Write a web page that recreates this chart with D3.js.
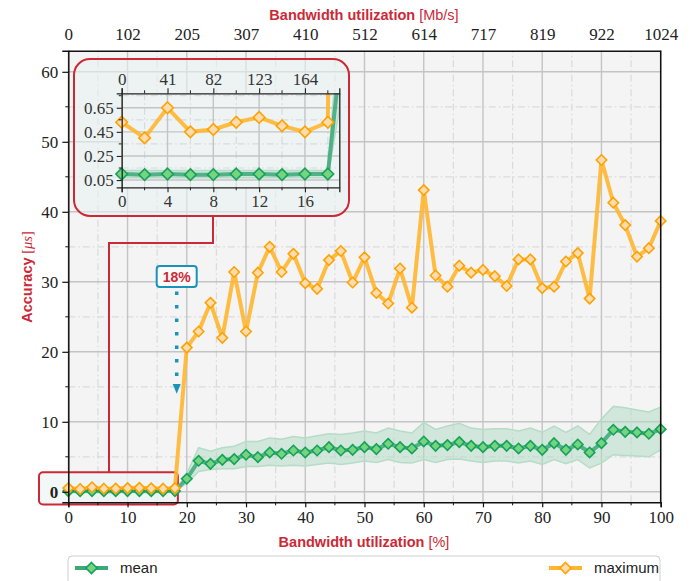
<!DOCTYPE html>
<html>
<head>
<meta charset="utf-8">
<script src="https://cdn.jsdelivr.net/npm/d3@7"></script>
<style>
  body { margin: 0; background: #fff; }
  .tick text { font-family: "Liberation Serif", serif; }
</style>
</head>
<body>
<script>
// bandwidth utilization in percent, one sample every 2 %
var pct = [0, 2, 4, 6, 8, 10, 12, 14, 16, 18, 20, 22, 24, 26, 28, 30, 32, 34, 36, 38, 40,
           42, 44, 46, 48, 50, 52, 54, 56, 58, 60, 62, 64, 66, 68, 70, 72, 74, 76, 78, 80,
           82, 84, 86, 88, 90, 92, 94, 96, 98, 100];

var maxVals = [0.53, 0.40, 0.65, 0.45, 0.47, 0.53, 0.57, 0.50, 0.45, 0.53,
               20.6, 22.9, 27.0, 22.0, 31.4, 22.9, 31.3, 35.0, 31.4, 34.0, 29.8,
               29.0, 33.1, 34.4, 29.9, 33.5, 28.4, 26.9, 31.9, 26.3, 43.1,
               30.9, 29.3, 32.3, 31.3, 31.7, 30.8, 29.4, 33.2, 33.2, 29.1,
               29.3, 32.9, 34.1, 27.6, 47.4, 41.3, 38.1, 33.6, 34.8, 38.7];

var meanVals = [0.10, 0.095, 0.10, 0.095, 0.095, 0.10, 0.10, 0.095, 0.10, 0.10,
                1.86, 4.43, 4.0, 4.57, 4.67, 5.29, 4.95, 5.62, 5.43, 5.9, 5.62,
                5.9, 6.38, 5.9, 6.0, 6.38, 6.1, 6.86, 6.38, 6.19, 7.19,
                6.57, 6.67, 7.1, 6.57, 6.38, 6.57, 6.57, 6.19, 6.57, 6.0,
                6.95, 6.0, 6.76, 5.62, 6.95, 8.86, 8.57, 8.48, 8.29, 8.95];

var bandHigh = [0.13, 0.13, 0.13, 0.13, 0.13, 0.13, 0.13, 0.13, 0.13, 0.13,
                2.6, 6.3, 5.8, 6.3, 6.5, 7.2, 7.2, 7.7, 7.5, 7.9, 7.7,
                8.0, 8.3, 8.2, 8.4, 8.7, 8.4, 9.1, 8.7, 8.4, 9.9,
                8.9, 9.4, 9.8, 9.1, 8.9, 9.0, 9.0, 8.7, 9.1, 8.5,
                9.4, 8.5, 9.4, 8.2, 10.4, 12.2, 12.0, 11.7, 11.4, 12.1];

var bandLow = [0.07, 0.07, 0.07, 0.07, 0.07, 0.07, 0.07, 0.07, 0.07, 0.07,
               1.2, 2.9, 3.2, 3.3, 3.3, 3.6, 3.6, 3.8, 3.7, 3.8, 3.7,
               3.9, 4.1, 3.9, 4.1, 4.4, 4.2, 4.6, 4.2, 4.1, 4.6,
               4.2, 4.6, 4.7, 4.4, 4.2, 4.4, 4.4, 4.1, 4.4, 3.9,
               4.6, 4.0, 4.6, 3.4, 4.1, 5.3, 5.2, 5.1, 5.0, 6.0];

var xTicks = [0, 10, 20, 30, 40, 50, 60, 70, 80, 90, 100];
var mbLabels = ["0", "102", "205", "307", "410", "512", "614", "717", "819", "922", "1024"];
var yTicks = [0, 10, 20, 30, 40, 50, 60];

var insetXTicks = [0, 4, 8, 12, 16];
var insetMbLabels = ["0", "41", "82", "123", "164"];
var insetYTicks = [0.05, 0.25, 0.45, 0.65];

var red = "#cc2936";
var blue = "#1a93b8";
var orange = { line: "#ffb630", fill: "#ffdcb0", edge: "#ffa200" };
var green = { line: "#3aa877", fill: "#74d47f", edge: "#16a05a", band: "#b5dcc8" };

var data = pct.map(function(p, i) {
  return { x: p, max: maxVals[i], mean: meanVals[i], lo: bandLow[i], hi: bandHigh[i] };
});

var svg = d3.select("body").append("svg")
  .attr("width", 693)
  .attr("height", 581);

var x = d3.scaleLinear().domain([0, 100]).range([68.3, 660.7]);
var y = d3.scaleLinear().domain([-1.5, 63]).range([502.3, 50.8]);

function diamond(r) {
  return "M0," + (-r) + "L" + r + ",0L0," + r + "L" + (-r) + ",0Z";
}

function grid(g, xs, ys, xMinor, yMinor, xr, yr) {
  g.selectAll(".vmin").data(xMinor).enter().append("line")
    .attr("x1", xs).attr("x2", xs).attr("y1", yr[0]).attr("y2", yr[1])
    .attr("stroke", "#dadada").attr("stroke-width", 1.2).attr("stroke-dasharray", "7,3,1.5,3");
  g.selectAll(".hmin").data(yMinor).enter().append("line")
    .attr("y1", ys).attr("y2", ys).attr("x1", xr[0]).attr("x2", xr[1])
    .attr("stroke", "#dadada").attr("stroke-width", 1.2).attr("stroke-dasharray", "7,3,1.5,3");
}

function drawSeries(g, xs, ys) {
  var area = d3.area()
    .x(function(d) { return xs(d.x); })
    .y0(function(d) { return ys(d.lo); })
    .y1(function(d) { return ys(d.hi); });
  g.append("path").datum(data).attr("d", area)
    .attr("fill", green.band).attr("fill-opacity", 0.55)
    .attr("stroke", green.band).attr("stroke-width", 1.5);

  var lineMean = d3.line().x(function(d) { return xs(d.x); }).y(function(d) { return ys(d.mean); });
  var lineMax = d3.line().x(function(d) { return xs(d.x); }).y(function(d) { return ys(d.max); });

  g.append("path").datum(data).attr("d", lineMean)
    .attr("fill", "none").attr("stroke", green.line).attr("stroke-width", 4).attr("stroke-opacity", 0.85);
  g.append("path").datum(data).attr("d", lineMax)
    .attr("fill", "none").attr("stroke", orange.line).attr("stroke-width", 4).attr("stroke-opacity", 0.9);
}

function drawMarkers(g, xs, ys, r, dom) {
  var pts = data.filter(function(d) { return d.x >= dom[0] && d.x <= dom[1]; });
  g.selectAll(".mm").data(pts).enter().append("path")
    .attr("d", diamond(r))
    .attr("transform", function(d) { return "translate(" + xs(d.x) + "," + ys(d.mean) + ")"; })
    .attr("fill", green.fill).attr("stroke", green.edge).attr("stroke-width", 1.6);
  g.selectAll(".mx").data(pts).enter().append("path")
    .attr("d", diamond(r))
    .attr("transform", function(d) { return "translate(" + xs(d.x) + "," + ys(d.max) + ")"; })
    .attr("fill", orange.fill).attr("stroke", orange.edge).attr("stroke-width", 1.6);
}

// ---- main plot
svg.append("rect")
  .attr("x", x(0)).attr("y", y(63))
  .attr("width", x(100) - x(0)).attr("height", y(-1.5) - y(63))
  .attr("fill", "#f4f4f4");

var gMain = svg.append("g");
grid(gMain, x, y,
  [5, 15, 25, 35, 45, 55, 65, 75, 85, 95], [5, 15, 25, 35, 45, 55],
  [x(0), x(100)], [y(-1.5), y(63)]);

gMain.selectAll(".vmaj").data(xTicks).enter().append("line")
  .attr("x1", x).attr("x2", x).attr("y1", y(-1.5)).attr("y2", y(63))
  .attr("stroke", "#c4c4c4").attr("stroke-width", 1.4);
gMain.selectAll(".hmaj").data(yTicks).enter().append("line")
  .attr("y1", y).attr("y2", y).attr("x1", x(0)).attr("x2", x(100))
  .attr("stroke", "#c4c4c4").attr("stroke-width", 1.4);

// small zoom box around the low-load region
svg.append("rect")
  .attr("x", 39).attr("y", y(2.8))
  .attr("width", x(18.5) - 39).attr("height", y(-1.8) - y(2.8))
  .attr("rx", 4)
  .attr("fill", "#eef4f6").attr("fill-opacity", 0.75)
  .attr("stroke", red).attr("stroke-width", 2);

svg.append("defs").append("clipPath").attr("id", "clipMain")
  .append("rect").attr("x", x(0)).attr("y", y(63))
  .attr("width", x(100) - x(0)).attr("height", y(-1.5) - y(63));

var gData = svg.append("g").attr("clip-path", "url(#clipMain)");
drawSeries(gData, x, y);
drawMarkers(svg.append("g"), x, y, 5.2, [0, 100]);

// axes
var axB = d3.axisBottom(x).tickValues(xTicks).tickSize(5).tickPadding(4);
var axT = d3.axisTop(x).tickValues(xTicks).tickSize(0).tickPadding(11)
  .tickFormat(function(d, i) { return mbLabels[i]; });
var axL = d3.axisLeft(y).tickValues(yTicks).tickSize(6).tickPadding(4);

var gB = svg.append("g").attr("transform", "translate(0," + y(-1.5) + ")").call(axB);
var gT = svg.append("g").attr("transform", "translate(0," + y(63) + ")").call(axT);
var gL = svg.append("g").attr("transform", "translate(" + x(0) + ",0)").call(axL);

[gB, gT, gL].forEach(function(g) {
  g.select(".domain").attr("stroke", "#111").attr("stroke-width", 1.5);
  g.selectAll(".tick line").attr("stroke", "#111").attr("stroke-width", 1.2);
  g.selectAll(".tick text").attr("font-size", 17).attr("fill", "#222");
});
gL.selectAll(".tick text").filter(function(d) { return d === 0; })
  .attr("font-weight", "bold").attr("fill", "#222");

// minor ticks
svg.append("g").selectAll("line").data([5, 15, 25, 35, 45, 55, 65, 75, 85, 95]).enter().append("line")
  .attr("x1", x).attr("x2", x).attr("y1", y(-1.5)).attr("y2", y(-1.5) + 3)
  .attr("stroke", "#111").attr("stroke-width", 1);
svg.append("g").selectAll("line").data([5, 15, 25, 35, 45, 55]).enter().append("line")
  .attr("y1", y).attr("y2", y).attr("x1", x(0) - 3).attr("x2", x(0))
  .attr("stroke", "#111").attr("stroke-width", 1);

// right spine
svg.append("line").attr("x1", x(100)).attr("x2", x(100)).attr("y1", y(63)).attr("y2", y(-1.5))
  .attr("stroke", "#111").attr("stroke-width", 1.5);

// axis titles
var t1 = svg.append("text").attr("x", 364).attr("y", 20).attr("text-anchor", "middle")
  .attr("font-family", "Liberation Sans, Arial, sans-serif").attr("font-size", 14.5).attr("fill", red);
t1.append("tspan").attr("font-weight", "bold").text("Bandwidth utilization");
t1.append("tspan").text(" [Mb/s]");

var t2 = svg.append("text").attr("x", 364).attr("y", 547).attr("text-anchor", "middle")
  .attr("font-family", "Liberation Sans, Arial, sans-serif").attr("font-size", 14.5).attr("fill", red);
t2.append("tspan").attr("font-weight", "bold").text("Bandwidth utilization");
t2.append("tspan").text(" [%]");

var t3 = svg.append("text").attr("transform", "translate(32,277) rotate(-90)").attr("text-anchor", "middle")
  .attr("font-family", "Liberation Sans, Arial, sans-serif").attr("font-size", 14.5).attr("fill", red);
t3.append("tspan").attr("font-weight", "bold").text("Accuracy");
t3.append("tspan").attr("font-family", "Liberation Serif, serif").text(" [");
t3.append("tspan").attr("font-family", "Liberation Serif, serif").attr("font-style", "italic").text("\u03bcs");
t3.append("tspan").attr("font-family", "Liberation Serif, serif").text("]");

// annotation: 18 % knee
svg.append("line")
  .attr("x1", x(18.3)).attr("x2", x(18.3)).attr("y1", y(28.6)).attr("y2", y(15.2))
  .attr("stroke", blue).attr("stroke-width", 3.5).attr("stroke-dasharray", "3.5,10");
svg.append("path")
  .attr("d", "M" + (x(18.3) - 4) + "," + y(15.4) + "L" + (x(18.3) + 4) + "," + y(15.4) + "L" + x(18.3) + "," + y(14.0) + "Z")
  .attr("fill", blue);
svg.append("rect")
  .attr("x", x(18.3) - 20).attr("y", y(30.7) - 11)
  .attr("width", 40).attr("height", 21).attr("rx", 3)
  .attr("fill", "#fafafa").attr("stroke", blue).attr("stroke-width", 2);
svg.append("text").attr("x", x(18.3)).attr("y", y(30.7) + 5).attr("text-anchor", "middle")
  .attr("font-family", "Liberation Sans, Arial, sans-serif").attr("font-weight", "bold")
  .attr("font-size", 14).attr("fill", red).text("18%");

// connector from small box to inset
svg.append("path")
  .attr("d", "M109," + y(2.8) + "V243H213V216")
  .attr("fill", "none").attr("stroke", red).attr("stroke-width", 2);

// ---- inset
svg.append("rect")
  .attr("x", 74).attr("y", 59).attr("width", 275).attr("height", 157).attr("rx", 16)
  .attr("fill", "#e8f1f2").attr("fill-opacity", 0.6)
  .attr("stroke", red).attr("stroke-width", 2);

var ix = d3.scaleLinear().domain([0, 19]).range([121.7, 339.3]);
var iy = d3.scaleLinear().domain([-0.01, 0.77]).range([187.3, 93.3]);

svg.append("rect")
  .attr("x", ix(0)).attr("y", iy(0.77))
  .attr("width", ix(19) - ix(0)).attr("height", iy(-0.01) - iy(0.77))
  .attr("fill", "#eef3f4");

var gIn = svg.append("g");
grid(gIn, ix, iy, [2, 6, 10, 14, 18], [0.15, 0.35, 0.55, 0.75],
  [ix(0), ix(19)], [iy(-0.01), iy(0.77)]);
gIn.selectAll(".vmaj").data(insetXTicks).enter().append("line")
  .attr("x1", ix).attr("x2", ix).attr("y1", iy(-0.01)).attr("y2", iy(0.77))
  .attr("stroke", "#c4c4c4").attr("stroke-width", 1.4);
gIn.selectAll(".hmaj").data(insetYTicks).enter().append("line")
  .attr("y1", iy).attr("y2", iy).attr("x1", ix(0)).attr("x2", ix(19))
  .attr("stroke", "#c4c4c4").attr("stroke-width", 1.4);

svg.select("defs").append("clipPath").attr("id", "clipInset")
  .append("rect").attr("x", ix(0)).attr("y", iy(0.77))
  .attr("width", ix(19) - ix(0)).attr("height", iy(-0.01) - iy(0.77));

drawSeries(svg.append("g").attr("clip-path", "url(#clipInset)"), ix, iy);
drawMarkers(svg.append("g"), ix, iy, 5.8, [0, 18]);

var iaB = d3.axisBottom(ix).tickValues(insetXTicks).tickSize(5).tickPadding(3);
var iaT = d3.axisTop(ix).tickValues(insetXTicks).tickSize(5).tickPadding(3)
  .tickFormat(function(d, i) { return insetMbLabels[i]; });
var iaL = d3.axisLeft(iy).tickValues(insetYTicks).tickSize(5).tickPadding(3)
  .tickFormat(d3.format(".2f"));
var iaR = d3.axisRight(iy).tickValues(insetYTicks).tickSize(0).tickFormat("");

var igB = svg.append("g").attr("transform", "translate(0," + iy(-0.01) + ")").call(iaB);
var igT = svg.append("g").attr("transform", "translate(0," + iy(0.77) + ")").call(iaT);
var igL = svg.append("g").attr("transform", "translate(" + ix(0) + ",0)").call(iaL);
var igR = svg.append("g").attr("transform", "translate(" + ix(19) + ",0)").call(iaR);

[igB, igT, igL, igR].forEach(function(g) {
  g.select(".domain").attr("stroke", "#222").attr("stroke-width", 1.3);
  g.selectAll(".tick line").attr("stroke", "#222").attr("stroke-width", 1.1);
  g.selectAll(".tick text").attr("font-size", 17).attr("fill", "#333");
});

// inset minor ticks
[iy(-0.01), iy(0.77)].forEach(function(yy, k) {
  svg.append("g").selectAll("line").data([2, 6, 10, 14, 18]).enter().append("line")
    .attr("x1", ix).attr("x2", ix).attr("y1", yy).attr("y2", k === 0 ? yy + 3 : yy - 3)
    .attr("stroke", "#222").attr("stroke-width", 1);
});
svg.append("g").selectAll("line").data([0.15, 0.35, 0.55, 0.75]).enter().append("line")
  .attr("y1", iy).attr("y2", iy).attr("x1", ix(0) - 3).attr("x2", ix(0))
  .attr("stroke", "#222").attr("stroke-width", 1);

// ---- legend
svg.append("rect")
  .attr("x", 68).attr("y", 556).attr("width", 592).attr("height", 34).attr("rx", 4)
  .attr("fill", "#fff").attr("stroke", "#cfcfcf").attr("stroke-width", 1);

var legend = [
  { name: "mean", c: green, x0: 75 },
  { name: "maximum", c: orange, x0: 549 }
];
var lg = svg.append("g").selectAll("g").data(legend).enter().append("g")
  .attr("transform", function(d) { return "translate(" + d.x0 + ",568)"; });
lg.append("line").attr("x1", 0).attr("x2", 33).attr("y1", 0).attr("y2", 0)
  .attr("stroke", function(d) { return d.c.line; }).attr("stroke-width", 4);
lg.append("path").attr("d", diamond(5.5)).attr("transform", "translate(16.5,0)")
  .attr("fill", function(d) { return d.c.fill; })
  .attr("stroke", function(d) { return d.c.edge; }).attr("stroke-width", 1.6);
lg.append("text").attr("x", 45).attr("y", 5)
  .attr("font-family", "Liberation Sans, Arial, sans-serif").attr("font-size", 15).attr("fill", "#222")
  .text(function(d) { return d.name; });
</script>
</body>
</html>
